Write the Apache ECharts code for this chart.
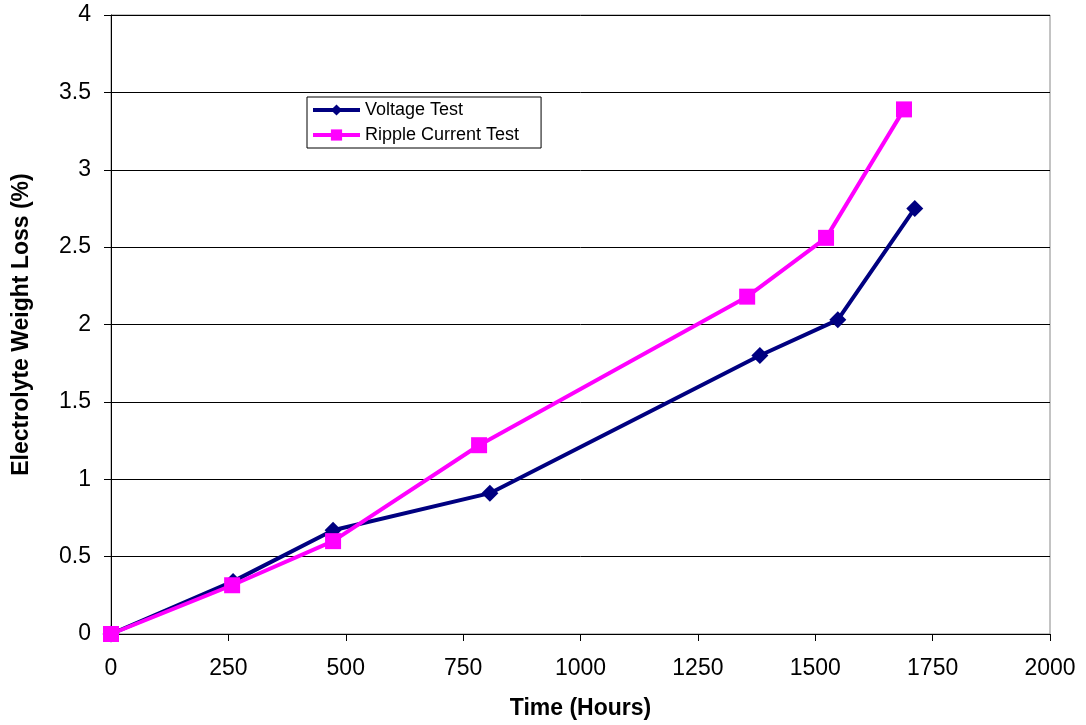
<!DOCTYPE html>
<html>
<head>
<meta charset="utf-8">
<script src="https://cdn.jsdelivr.net/npm/echarts@6/dist/echarts.min.js"></script>
<style>
html, body { margin: 0; padding: 0; background: #fff; }
#chart { width: 1086px; height: 725px; }
</style>
</head>
<body>
<div id="chart"></div>
<script>
// values
var voltageHours = [0, 260, 473, 807, 1382, 1548, 1712];
var voltageLoss = [0, 0.34, 0.67, 0.91, 1.80, 2.03, 2.75];
var rippleHours = [0, 258, 473, 784, 1355, 1523, 1689];
var rippleLoss = [0, 0.315, 0.60, 1.22, 2.18, 2.56, 3.39];

function pairs(xs, ys) {
    var out = [];
    for (var i = 0; i < xs.length; i++) {
        out.push([xs[i], ys[i]]);
    }
    return out;
}

var chart = echarts.init(document.getElementById('chart'));
var font = 'Liberation Sans, Arial, sans-serif';

chart.setOption({
    animation: false,
    backgroundColor: '#fff',
    grid: {
        left: 111,
        right: 36,
        top: 15,
        bottom: 87,
        show: true,
        borderColor: '#888',
        borderWidth: 1
    },
    legend: {
        orient: 'vertical',
        left: 307,
        top: 97,
        itemWidth: 47,
        itemHeight: 14,
        itemGap: 7,
        padding: [4, 22, 4, 4],
        borderColor: '#000',
        borderWidth: 1,
        backgroundColor: '#fff',
        lineStyle: { width: 4 },
        textStyle: { fontFamily: font, fontSize: 18, color: '#000' },
        data: ['Voltage Test', 'Ripple Current Test']
    },
    xAxis: {
        type: 'value',
        min: 0,
        max: 2000,
        interval: 250,
        name: 'Time (Hours)',
        nameLocation: 'middle',
        nameGap: 63,
        nameTextStyle: { fontFamily: font, fontSize: 23, fontWeight: 'bold', color: '#000' },
        axisLine: { show: true, lineStyle: { color: '#000', width: 1 } },
        axisTick: { show: true, inside: false, length: 7, lineStyle: { color: '#000' } },
        axisLabel: {
            fontFamily: font, fontSize: 23, color: '#000', margin: 23,
            formatter: function (v) { return String(v); }
        },
        splitLine: { show: false }
    },
    yAxis: {
        type: 'value',
        min: 0,
        max: 4,
        interval: 0.5,
        name: 'Electrolyte Weight Loss (%)',
        nameLocation: 'middle',
        nameGap: 78,
        nameTextStyle: { fontFamily: font, fontSize: 23, fontWeight: 'bold', color: '#000' },
        axisLine: { show: true, lineStyle: { color: '#000', width: 1 } },
        axisTick: { show: true, inside: false, length: 7, lineStyle: { color: '#000' } },
        axisLabel: { fontFamily: font, fontSize: 23, color: '#000', margin: 20 },
        splitLine: { show: true, lineStyle: { color: '#000', width: 1 } }
    },
    series: [
        {
            name: 'Voltage Test',
            type: 'line',
            data: pairs(voltageHours, voltageLoss),
            symbol: 'diamond',
            symbolSize: 17,
            color: '#000080',
            lineStyle: { width: 4, color: '#000080' },
            itemStyle: { color: '#000080' },
            z: 2
        },
        {
            name: 'Ripple Current Test',
            type: 'line',
            data: pairs(rippleHours, rippleLoss),
            symbol: 'rect',
            symbolSize: 16,
            color: '#ff00ff',
            lineStyle: { width: 4, color: '#ff00ff' },
            itemStyle: { color: '#ff00ff' },
            z: 3
        }
    ]
});
</script>
</body>
</html>
